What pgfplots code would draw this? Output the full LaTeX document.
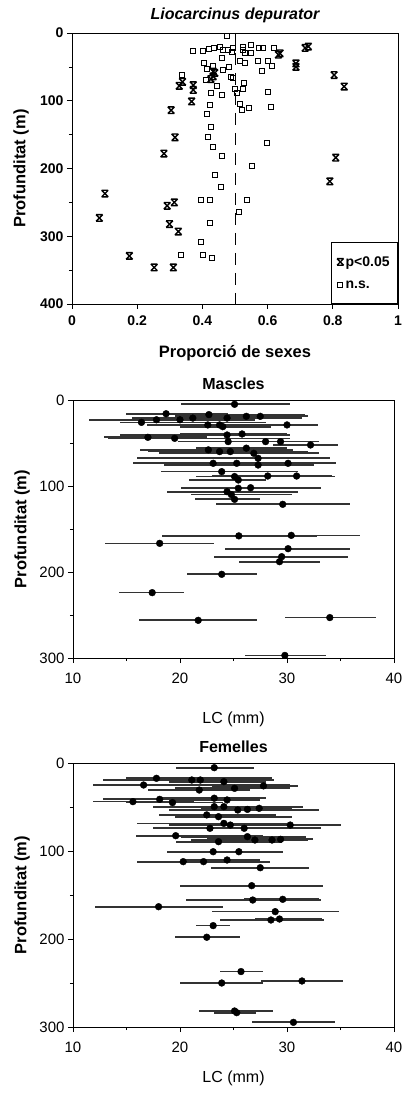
\documentclass[border=0pt]{standalone}
\usepackage{pgfplots}
\pgfplotsset{compat=1.18}
\usepackage{pgfplotstable}
\usepackage{fontspec}
\setmainfont{Liberation Sans}

% X with bars on top and bottom, as in the scan
\pgfdeclareplotmark{hx}{%
  \pgfpathmoveto{\pgfqpoint{-\pgfplotmarksize}{\pgfplotmarksize}}%
  \pgfpathlineto{\pgfqpoint{\pgfplotmarksize}{-\pgfplotmarksize}}%
  \pgfpathmoveto{\pgfqpoint{\pgfplotmarksize}{\pgfplotmarksize}}%
  \pgfpathlineto{\pgfqpoint{-\pgfplotmarksize}{-\pgfplotmarksize}}%
  \pgfpathmoveto{\pgfqpoint{-\pgfplotmarksize}{\pgfplotmarksize}}%
  \pgfpathlineto{\pgfqpoint{\pgfplotmarksize}{\pgfplotmarksize}}%
  \pgfpathmoveto{\pgfqpoint{-\pgfplotmarksize}{-\pgfplotmarksize}}%
  \pgfpathlineto{\pgfqpoint{\pgfplotmarksize}{-\pgfplotmarksize}}%
  \pgfusepathqstroke}

\pgfplotstableread{
p d
0.633 32
0.638 30
0.715 22
0.725 20
0.687 45
0.687 50
0.804 62
0.835 79
0.339 72
0.329 78
0.372 77
0.372 84
0.367 101
0.304 114
0.316 154
0.282 178
0.809 184
0.433 57
0.433 64
0.438 59
0.426 68
0.791 219
0.101 237
0.084 273
0.292 255
0.314 250
0.299 282
0.326 293
0.176 329
0.252 346
0.311 346
}\sig

\pgfplotstableread{
p d
0.475 4
0.372 27
0.403 27
0.420 23
0.435 22
0.454 20
0.464 25
0.480 25
0.495 22
0.490 28
0.459 37
0.524 20
0.524 25
0.530 30
0.548 30
0.549 18
0.574 22
0.585 22
0.620 22
0.602 41
0.612 49
0.572 42
0.584 56
0.515 41
0.530 45
0.405 45
0.433 49
0.413 53
0.464 55
0.483 50
0.338 62
0.411 70
0.444 78
0.425 89
0.461 92
0.488 65
0.495 67
0.500 82
0.527 74
0.525 83
0.505 89
0.602 87
0.423 106
0.413 120
0.515 105
0.520 114
0.544 110
0.610 109
0.425 139
0.416 154
0.433 169
0.461 182
0.553 197
0.599 163
0.440 210
0.457 228
0.395 247
0.423 246
0.536 246
0.512 264
0.423 281
0.396 309
0.334 327
0.401 327
0.430 332
}\ns

\pgfplotstableread{
lc d lo hi
25.1 5 20.1 30.3
18.7 16 15.0 24.5
22.7 17 16.0 31.7
16.4 26 14.4 28.0
17.8 23 11.5 25.0
20.0 23 14.4 27.0
21.2 21 15.5 29.5
24.4 21 17.0 31.4
26.2 19 19.5 31.0
27.5 19 21.0 32.0
30.0 29 24.0 32.9
22.6 29 16.9 29.0
23.7 29 18.0 30.5
24.0 31 20.0 28.5
17.0 43.4 12.9 22.5
19.5 44.6 13.3 30.3
24.4 40.7 14.4 30.3
25.8 39.5 20.0 30.0
24.5 48.4 19.8 32.9
28.0 48.4 22.0 31.0
29.4 48.4 25.0 33.0
32.2 52.3 28.7 34.8
22.65 58 16.3 30.6
23.7 60 19.0 31.0
24.7 60 17.0 32.0
26.2 56 21.5 30.0
26.9 62 18.0 33.0
27.3 67.8 16.0 34.0
23.1 73.6 15.6 34.6
25.3 73.6 21.0 31.0
27.3 75.6 18.5 32.5
30.1 73.6 24.5 34.0
23.9 83.3 18.2 31.0
25.1 89 21.5 34.5
25.45 93 20.8 28.0
28.2 88.4 23.0 31.5
30.9 88.4 27.0 34.2
25.45 102.7 20.1 33.2
26.6 102 22.0 30.0
24.4 106.6 18.8 31.0
24.8 110 21.0 30.5
25.1 115.5 21.4 27.5
29.6 121.3 23.4 35.9
25.5 158 18.3 32.8
30.4 157.4 24.0 36.8
18.1 166.7 13.0 23.2
30.1 172.9 24.2 35.9
29.5 182.2 23.2 35.7
29.3 188 25.5 33.1
23.9 202.7 20.7 27.2
17.4 224 14.3 20.4
21.7 256.2 16.2 27.2
34.0 253 29.8 38.3
29.8 297 26.1 33.6
}\masc

\pgfplotstableread{
lc d lo hi
23.2 5.3 19.6 26.9
17.8 17.4 15.0 28.6
16.6 25 11.9 30.3
21.1 19.3 12.8 28.8
21.9 19.3 16.0 27.0
24.1 21.2 19.0 28.0
25.1 28.8 19.5 30.3
27.8 26 23.0 31.0
21.8 30.7 17.0 26.5
15.6 43.9 11.9 21.3
18.1 41.3 12.8 23.5
19.3 45 15.0 24.0
23.2 40 18.0 28.0
24.4 42 19.0 27.5
23.2 49.6 18.5 31.5
24.1 49.6 17.5 30.0
25.4 53.4 19.0 33.0
26.3 52.7 20.5 32.0
27.4 51.5 22.0 30.5
22.5 59 18.0 29.0
23.6 61 19.5 30.5
24.1 68.6 16.0 30.0
24.7 70.5 19.0 31.5
22.8 74.2 17.5 33.2
26.0 74.2 20.0 32.0
30.3 70.5 23.8 35.0
19.6 82.6 15.9 27.8
26.3 83.7 20.1 31.8
23.6 89.4 19.6 29.5
27.0 87.5 21.0 31.0
28.6 87.5 24.0 32.0
29.4 86.7 22.5 32.4
23.1 100.8 18.8 29.6
25.5 100.8 21.0 28.5
20.3 112.1 16.0 24.5
22.2 112.1 16.2 28.4
24.4 110.2 20.5 27.5
27.5 119 22.9 32.1
26.7 139.4 20.0 33.4
26.8 155.7 20.6 33.2
29.6 154.9 26.0 33.0
18.0 163.3 12.1 24.0
28.9 168.9 23.0 34.9
28.5 178.4 23.7 33.5
29.3 177.3 27.0 33.3
23.1 184.8 21.5 24.7
22.5 198 19.5 25.6
25.7 237 23.7 27.75
23.9 250 20.0 27.8
31.4 247.7 27.6 35.2
25.1 281.8 21.8 28.7
25.3 283.7 23.2 27.1
30.6 294.7 26.7 34.5
}\fem

\pgfplotsset{
  panel/.style={
    scale only axis, anchor=south west,
    y dir=reverse, axis line style={line width=0.8pt},
    tick align=outside, xtick pos=bottom, ytick pos=left,
    major tick length=5pt, minor tick length=3pt,
    every tick/.style={black, line width=0.7pt},
    /pgf/number format/assume math mode=true,
    clip=false,
    title style={font=\bfseries\fontsize{16}{16}\selectfont, yshift=1pt},
    every axis y label/.style={at={(rel axis cs:0,0.5)}, xshift=-51pt, rotate=90, anchor=center,
      font=\bfseries\fontsize{16.5}{16.5}\selectfont},
  },
  lcpanel/.style={panel,
    xmin=10, xmax=40, xtick={10,20,30,40}, minor xtick={15,25,35},
    ymin=0, ymax=300, ytick={0,100,200,300}, minor ytick={50,150,250},
    tick label style={font=\fontsize{15}{15}\selectfont},
    xticklabel style={yshift=-6pt},
    xlabel={LC (mm)}, ylabel={Profunditat (m)},
    width=321pt,
  },
  lclab/.style={every axis x label/.style={at={(rel axis cs:0.5,0)}, anchor=north, yshift=#1,
      font=\fontsize{16}{16}\selectfont}},
  errs/.style={only marks, mark=*, mark size=3.4pt, black,
    error bars/.cd, x dir=both, x explicit,
    error bar style={line width=1.7pt, black!80}, error mark=none},
}

\begin{document}
\begin{tikzpicture}
\path[use as bounding box] (0,0) rectangle (405pt,1093pt);

% Liocarcinus depurator: sex ratio against depth
\begin{axis}[panel, at={(72pt,789pt)}, width=326pt, height=271pt,
  xmin=0, xmax=1, xtick={0,0.2,0.4,0.6,0.8,1},
  ymin=0, ymax=400, ytick={0,100,200,300,400}, minor ytick={50,150,250,350},
  tick label style={font=\bfseries\fontsize{14}{14}\selectfont},
  xticklabel style={yshift=-3pt},
  title={\itshape Liocarcinus depurator},
  xlabel={Proporció de sexes}, ylabel={Profunditat (m)},
  every axis x label/.style={at={(rel axis cs:0.5,0)}, anchor=north, yshift=-38pt,
    font=\bfseries\fontsize{16.5}{16.5}\selectfont},
  legend style={at={(1,0)}, anchor=south east, draw=black, line width=0.8pt,
    inner xsep=6pt, inner ysep=12pt, row sep=9pt,
    font=\bfseries\fontsize{14}{14}\selectfont, cells={anchor=west}},
  ]
\addplot[black, dash pattern=on 12pt off 8pt, line width=0.8pt, forget plot]
  coordinates {(0.5,0) (0.5,400)};
\addplot[only marks, mark=hx, mark size=3.3pt, line width=1.4pt, black] table[x=p, y=d] {\sig};
\addlegendentry{p<0.05}
\addplot[only marks, mark=square, mark size=2.5pt, line width=1pt, black] table[x=p, y=d] {\ns};
\addlegendentry{n.s.}
\end{axis}

% Mascles
\begin{axis}[lcpanel, lclab=-50pt, at={(73pt,435pt)}, height=258pt, title={Mascles}]
\addplot[errs] table[x=lc, y=d,
  x error minus expr=\thisrow{lc}-\thisrow{lo},
  x error plus expr=\thisrow{hi}-\thisrow{lc}] {\masc};
\end{axis}

% Femelles
\begin{axis}[lcpanel, lclab=-40pt, at={(73pt,66pt)}, height=264pt, title={Femelles}]
\addplot[errs] table[x=lc, y=d,
  x error minus expr=\thisrow{lc}-\thisrow{lo},
  x error plus expr=\thisrow{hi}-\thisrow{lc}] {\fem};
\end{axis}
\end{tikzpicture}
\end{document}
